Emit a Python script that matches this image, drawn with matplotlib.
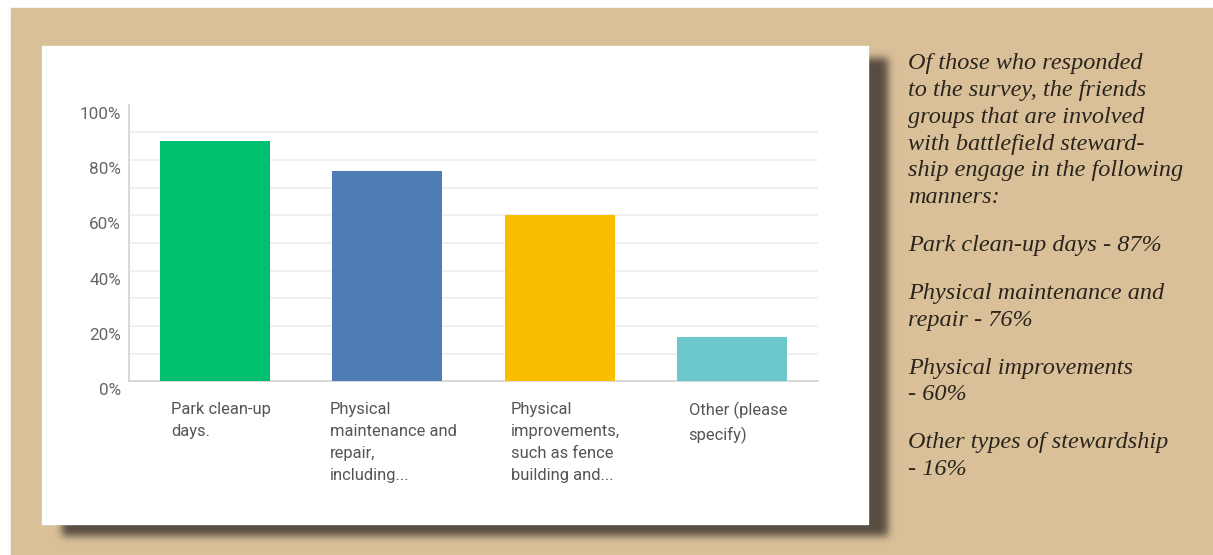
import matplotlib
matplotlib.use("Agg")
import matplotlib.pyplot as plt
import matplotlib.transforms as mtransforms
from matplotlib.patches import Rectangle
import numpy as np

# survey results
categories = [
    "Park clean-up\ndays.",
    "Physical\nmaintenance and\nrepair,\nincluding...",
    "Physical\nimprovements,\nsuch as fence\nbuilding and...",
    "Other (please\nspecify)",
]
percents = [87, 76, 60, 16]
bar_colors = ["#00bf6f", "#507cb6", "#f9be00", "#6bc8cd"]
y_ticks = [0, 20, 40, 60, 80, 100]
grid_levels = [10, 20, 30, 40, 50, 60, 70, 80, 90]

summary = [
    ["Of those who responded", "to the survey, the friends",
     "groups that are involved", "with battlefield steward-",
     "ship engage in the following", "manners:"],
    [f"Park clean-up days - {percents[0]}%"],
    ["Physical maintenance and", f"repair - {percents[1]}%"],
    ["Physical improvements", f"- {percents[2]}%"],
    ["Other types of stewardship", f"- {percents[3]}%"],
]

W, H = 1213, 555
TAN = "#d9c098"
SHADOW = "#574c41"

fig = plt.figure(figsize=(W / 100, H / 100), dpi=100)
fig.patch.set_facecolor("white")

# page background, drop shadow and white card (pixel coordinates)
bg = fig.add_axes([0, 0, 1, 1])
bg.set_xlim(0, W)
bg.set_ylim(H, 0)
bg.axis("off")
bg.add_patch(Rectangle((11, 8), W - 11, H - 8, color=TAN, zorder=1))

card = (42, 46, 826, 478)
mask = np.zeros((H, W))
sx, sy = card[0] + 20, card[1] + 12
mask[sy:sy + card[3], sx:sx + card[2]] = 1.0
k = np.arange(-12, 13)
kern = np.exp(-k ** 2 / (2 * 4.0 ** 2))
kern /= kern.sum()
mask = np.apply_along_axis(lambda r: np.convolve(r, kern, mode="same"), 1, mask)
mask = np.apply_along_axis(lambda c: np.convolve(c, kern, mode="same"), 0, mask)
rgba = np.zeros((H, W, 4))
rgba[..., :3] = matplotlib.colors.to_rgb(SHADOW)
rgba[..., 3] = mask
bg.imshow(rgba, extent=(0, W, H, 0), zorder=2, interpolation="bilinear")
bg.add_patch(Rectangle(card[:2], card[2], card[3], color="white", zorder=3))
bg.set_xlim(0, W)
bg.set_ylim(H, 0)

# summary text on the right
y = 69.5
for para in summary:
    for line in para:
        bg.text(908, y, line, fontsize=17.5, family="Liberation Serif",
                style="italic", color="#2a241e", va="baseline", ha="left",
                zorder=4)
        y += 26.7
    y += 21.3

# bar chart
y0, y1 = 381.3, 104.6
ax = fig.add_axes([129 / W, (H - y0) / H, (818 - 129) / W, (y0 - y1) / H])
ax.set_facecolor("none")
ax.set_xlim(-0.5, 3.5)
ax.set_ylim(0, 100)

for g in grid_levels:
    ax.axhline(g, color="#ededed", lw=1.2, zorder=1)

x = np.arange(len(categories))
ax.bar(x, percents, width=0.64, color=bar_colors, zorder=3)

for s in ["top", "right"]:
    ax.spines[s].set_visible(False)
for s in ["left", "bottom"]:
    ax.spines[s].set_color("#d6d6d6")
    ax.spines[s].set_linewidth(1.3)

ax.set_xticks([])
ax.set_yticks(y_ticks)
ax.set_yticklabels([f"{v}%" for v in y_ticks], family="Roboto")
ax.tick_params(axis="y", length=0, pad=5.8, labelsize=12.3,
               labelcolor="#666666")
shift = mtransforms.ScaledTranslation(0, -0.08, fig.dpi_scale_trans)
for lab in ax.get_yticklabels():
    lab.set_transform(lab.get_transform() + shift)

# category names: left-aligned blocks centred under each bar
nudge = mtransforms.ScaledTranslation(0.06, 0, fig.dpi_scale_trans)
for i, name in enumerate(categories):
    ax.text(i, -7.4, name, family="Roboto", fontsize=11.9,
            color="#555555", ha="center", va="top", multialignment="left",
            linespacing=1.58, clip_on=False,
            transform=ax.transData + nudge)

fig.savefig("out.png", dpi=100)
